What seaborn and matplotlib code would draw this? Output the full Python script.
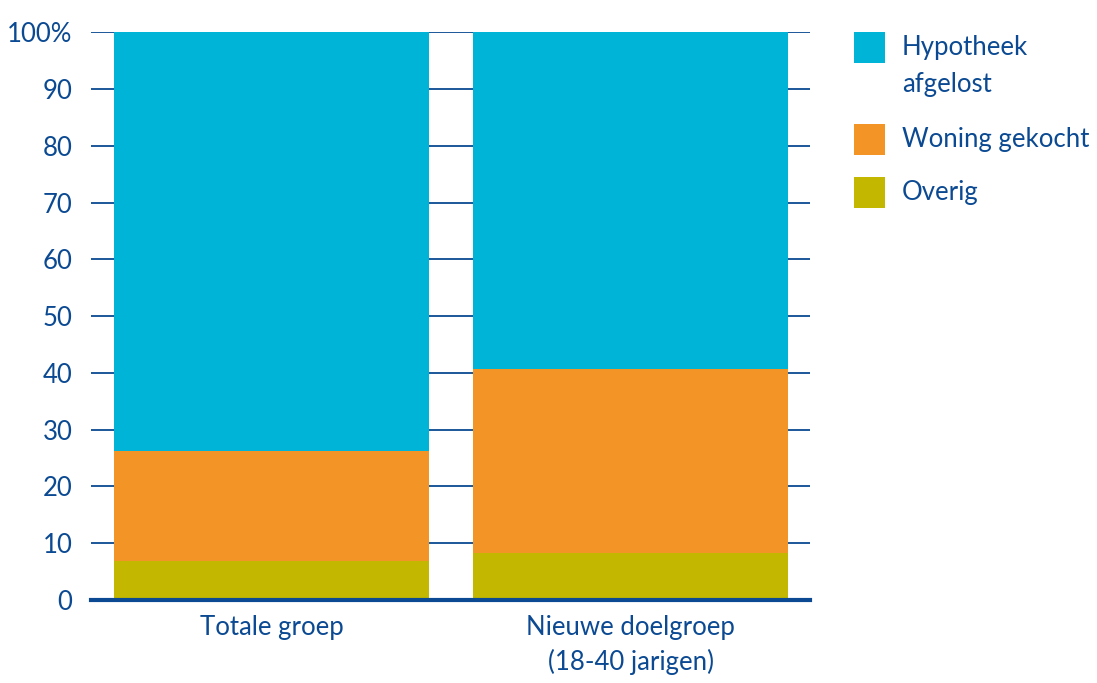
import numpy as np
import pandas as pd
import matplotlib.pyplot as plt
import seaborn as sns
from matplotlib.patches import Rectangle

groups = ["Totale groep", "Nieuwe doelgroep\n(18-40 jarigen)"]
categories = ["Overig", "Woning gekocht", "Hypotheek\nafgelost"]
overig = [6.9, 8.2]
woning = [19.3, 32.5]
hypotheek = [73.8, 59.3]
colors = {"Overig": "#C3B700", "Woning gekocht": "#F39427", "Hypotheek\nafgelost": "#00B4D8"}
text_blue = "#0B4A92"

df = pd.DataFrame({"groep": groups, "Overig": overig,
                   "Woning gekocht": woning, "Hypotheek\nafgelost": hypotheek})
cum = df[categories].cumsum(axis=1)
cum["groep"] = df["groep"]

sns.set_style("white")
plt.rcParams["font.family"] = ["Lato", "DejaVu Sans"]
FS = 18.5

W, H = 1097, 683
fig = plt.figure(figsize=(W / 100, H / 100), dpi=100)
ax = fig.add_axes([91 / W, 1 - 600 / H, (810 - 91) / W, (600 - 32.3) / H])

# grid lines behind the bars
for y in np.arange(10, 101, 10):
    ax.axhline(y, color=text_blue, lw=1.3, zorder=0)

# stacked: draw the tallest cumulative layer first
for cat in reversed(categories):
    sns.barplot(data=cum, x="groep", y=cat, color=colors[cat], width=0.877,
                saturation=1, linewidth=0, edgecolor="none", ax=ax, zorder=2)

ax.set_xlim(-0.503, 1.5)
ax.set_ylim(0, 100)
ax.set_yticks(np.arange(0, 101, 10))
ax.set_yticklabels([str(v) for v in range(0, 100, 10)] + ["100%"])
ax.set_xlabel("")
ax.set_ylabel("")
ax.tick_params(axis="y", length=0, pad=13.5, labelsize=FS, labelcolor=text_blue)
ax.tick_params(axis="x", length=0, pad=11, labelsize=FS, labelcolor=text_blue)
for t in ax.get_xticklabels():
    t.set_linespacing(1.4)
for s in ["top", "right", "left"]:
    ax.spines[s].set_visible(False)
ax.spines["bottom"].set_color(text_blue)
ax.spines["bottom"].set_linewidth(3)
ax.spines["bottom"].set_zorder(3)

# legend, drawn by hand so the swatch lines up with the first text line
swatch_tops = [177, 124, 32]  # pixel rows, per category (bottom to top order)
for cat, top in zip(categories, swatch_tops):
    fig.add_artist(Rectangle((854 / W, 1 - (top + 31) / H), 31 / W, 31 / H,
                             transform=fig.transFigure, facecolor=colors[cat],
                             edgecolor="none"))
    for i, line in enumerate(cat.split("\n")):
        base = top + 23 + i * 37
        fig.text(902 / W, 1 - base / H, line, fontsize=FS, color=text_blue,
                 va="baseline", ha="left")

fig.savefig("out.png", dpi=100)
